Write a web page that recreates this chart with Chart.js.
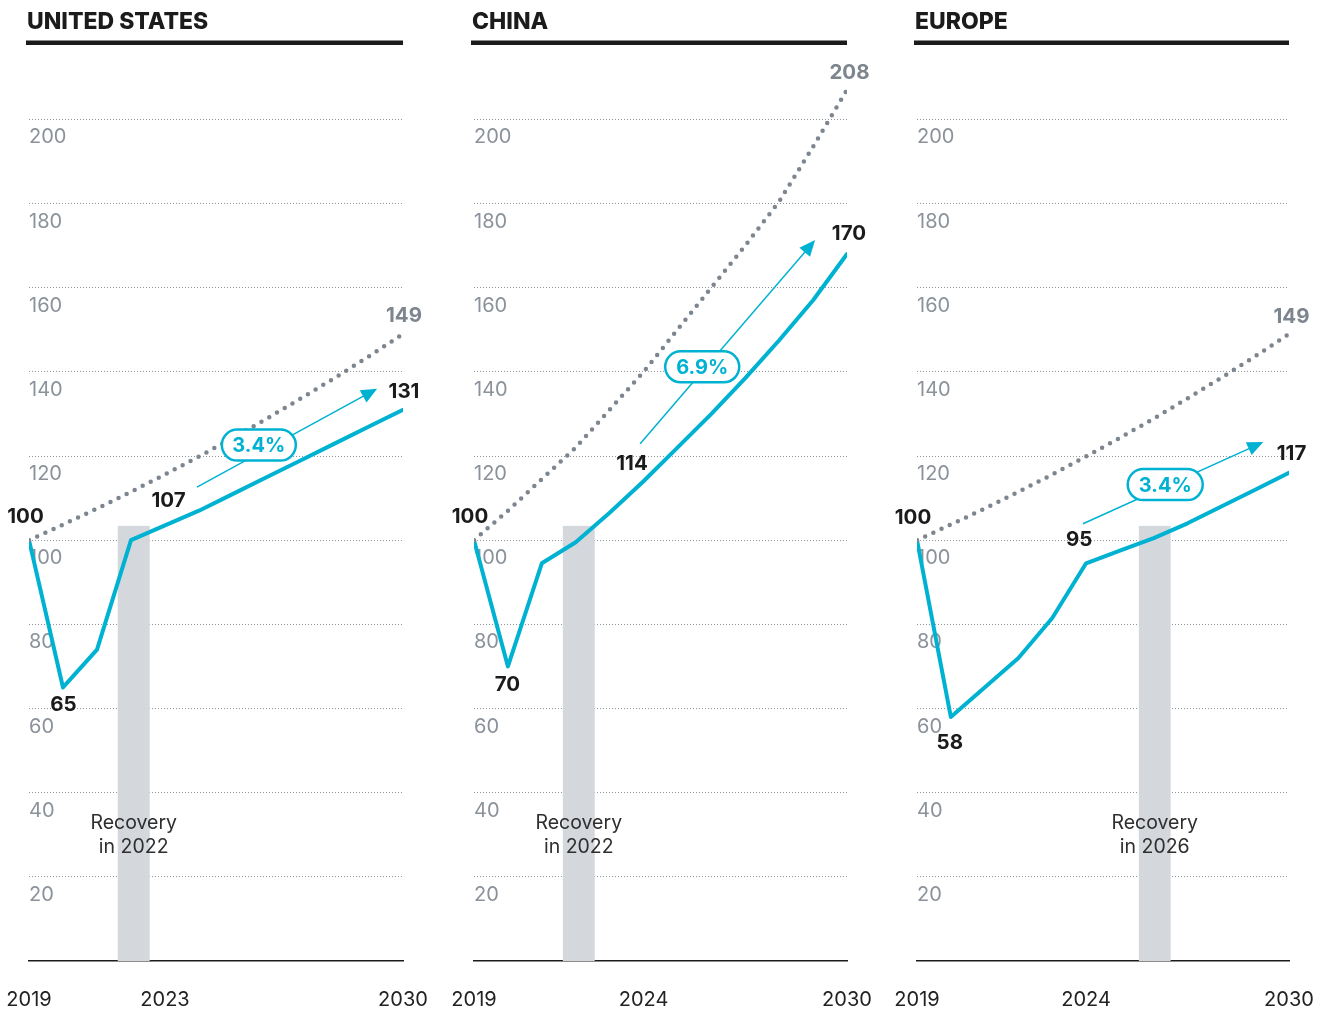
<!DOCTYPE html>
<html>
<head>
<meta charset="utf-8">
<script src="https://cdn.jsdelivr.net/npm/chart.js@4.4.1/dist/chart.umd.min.js"></script>
<style>
  body { margin: 0; background: #fff; }
  .panel { position: absolute; top: 0; width: 430px; height: 1011px; }
</style>
</head>
<body>
<div class="panel" style="left:0px"><canvas id="us" width="430" height="1011"></canvas></div>
<div class="panel" style="left:445px"><canvas id="china" width="430" height="1011"></canvas></div>
<div class="panel" style="left:888px"><canvas id="europe" width="430" height="1011"></canvas></div>
<script>
// index, 2019 = 100
const years = [2019, 2020, 2021, 2022, 2023, 2024, 2025, 2026, 2027, 2028, 2029, 2030];
const yTicks = [20, 40, 60, 80, 100, 120, 140, 160, 180, 200];

const usActual = [100, 65, 74, 100, 103.5, 107, 111, 115, 119, 123, 127, 131];
const usTrend = [100, 103.7, 107.5, 111.5, 115.6, 119.9, 124.3, 128.9, 133.7, 138.6, 143.7, 149];

const chinaActual = [100, 70, 94.5, 99.5, 106.5, 114, 122, 130, 138.5, 147.5, 157, 168];
const chinaTrend = [100, 107, 114.5, 122, 131, 140, 150, 160, 170, 180.5, 193.5, 207];

const europeActual = [100, 58, 65, 72, 81.5, 94.5, 97.5, 100.5, 104, 108, 112, 116];
const europeTrend = [100, 103.7, 107.5, 111.5, 115.6, 119.9, 124.3, 128.9, 133.7, 138.6, 143.7, 149];

const titles = ["UNITED STATES", "CHINA", "EUROPE"];
const midYears = [2023, 2024, 2024];
const recoveryYears = [2022, 2022, 2026];
const growthLabels = ["3.4%", "6.9%", "3.4%"];

const CYAN = "#00b2d2";
const GREY = "#7d858e";
const TICK = "#8b929a";
const BAR = "#d4d8dc";
const INK = "#1b1b1b";
const FONT = "Inter, 'Noto Sans', sans-serif";
const RECOVERY_TOP = 103.4;

// annotation placement per panel
const panels = [
  {
    id: "us", actual: usActual, trend: usTrend, padL: 29, padR: 27, barShift: 0.08,
    arrow: [[2023.94, 112.6], [2029.24, 136.0]], pill: [2025.76, 122.6, 74],
    labels: [
      ["100", "actual", 0, -3.5, -23, INK],
      ["65", "actual", 1, 0.5, 17.5, INK],
      ["107", "actual", 5, -30.5, -10, INK],
      ["131", "actual", 11, 1, -18, INK],
      ["149", "trend", 11, 1, -18, GREY]
    ]
  },
  {
    id: "china", actual: chinaActual, trend: chinaTrend, padL: 29, padR: 28, barShift: 0.09,
    arrow: [[2023.9, 122.9], [2029.06, 171.3]], pill: [2025.73, 141.2, 74],
    labels: [
      ["100", "actual", 0, -4, -23, INK],
      ["70", "actual", 1, -0.5, 18, INK],
      ["114", "actual", 5, -11.5, -17, INK],
      ["170", "actual", 11, 2, -20, INK],
      ["208", "trend", 11, 2.5, -17, GREY]
    ]
  },
  {
    id: "europe", actual: europeActual, trend: europeTrend, padL: 29, padR: 29, barShift: 0.03,
    arrow: [[2023.91, 103.9], [2029.24, 123.3]], pill: [2026.34, 113.2, 75],
    labels: [
      ["100", "actual", 0, -4, -22.5, INK],
      ["58", "actual", 1, -1, 26, INK],
      ["95", "actual", 5, -7, -23, INK],
      ["117", "actual", 11, 2.5, -18.5, INK],
      ["149", "trend", 11, 2.5, -17.5, GREY]
    ]
  }
];

function panelPlugin(p, k) {
  const mid = recoveryYears[k] + p.barShift;
  return {
    id: "panel" + k,
    beforeDatasetsDraw(chart) {
      const { ctx, scales: { x, y } } = chart;
      const x0 = x.getPixelForValue(mid - 0.47);
      const x1 = x.getPixelForValue(mid + 0.47);
      const yt = y.getPixelForValue(RECOVERY_TOP);
      const yb = y.getPixelForValue(0);
      ctx.save();
      ctx.fillStyle = BAR;
      ctx.fillRect(x0, yt, x1 - x0, yb - yt);
      ctx.restore();
    },
    afterDatasetsDraw(chart) {
      const { ctx, chartArea, scales: { x, y } } = chart;
      ctx.save();

      // title + rule
      ctx.fillStyle = INK;
      ctx.font = "800 23px " + FONT;
      ctx.textAlign = "left";
      ctx.textBaseline = "alphabetic";
      ctx.fillText(titles[k], chartArea.left - 2, 29);
      ctx.fillRect(chartArea.left - 3, 40.5, chartArea.right - chartArea.left + 3, 4.5);

      // recovery note
      const cx = x.getPixelForValue(mid);
      const yb = y.getPixelForValue(0);
      ctx.fillStyle = "#2e2e2e";
      ctx.font = "400 19.5px " + FONT;
      ctx.textAlign = "center";
      ctx.textBaseline = "middle";
      ctx.fillText("Recovery", cx, yb - 138);
      ctx.fillText("in " + recoveryYears[k], cx, yb - 114);

      // growth arrow
      const [a, b] = p.arrow;
      const ax = x.getPixelForValue(a[0]), ay = y.getPixelForValue(a[1]);
      const bx = x.getPixelForValue(b[0]), by = y.getPixelForValue(b[1]);
      const ang = Math.atan2(by - ay, bx - ax);
      ctx.strokeStyle = CYAN;
      ctx.fillStyle = CYAN;
      ctx.lineWidth = 1.5;
      ctx.beginPath();
      ctx.moveTo(ax, ay);
      ctx.lineTo(bx - 12 * Math.cos(ang), by - 12 * Math.sin(ang));
      ctx.stroke();
      ctx.beginPath();
      ctx.moveTo(bx, by);
      ctx.lineTo(bx - 16 * Math.cos(ang) + 7 * Math.sin(ang), by - 16 * Math.sin(ang) - 7 * Math.cos(ang));
      ctx.lineTo(bx - 16 * Math.cos(ang) - 7 * Math.sin(ang), by - 16 * Math.sin(ang) + 7 * Math.cos(ang));
      ctx.closePath();
      ctx.fill();

      // growth pill
      const px = x.getPixelForValue(p.pill[0]), py = y.getPixelForValue(p.pill[1]);
      const w = p.pill[2], h = 31;
      ctx.beginPath();
      ctx.roundRect(px - w / 2, py - h / 2, w, h, h / 2);
      ctx.fillStyle = "#fff";
      ctx.fill();
      ctx.lineWidth = 2.5;
      ctx.stroke();
      ctx.fillStyle = CYAN;
      ctx.font = "700 20px " + FONT;
      ctx.fillText(growthLabels[k], px, py + 1);

      // value labels
      ctx.font = "700 20.5px " + FONT;
      p.labels.forEach(([txt, series, i, dx, dy, col]) => {
        const v = (series === "actual" ? p.actual : p.trend)[i];
        ctx.fillStyle = col;
        ctx.fillText(txt, x.getPixelForValue(years[i]) + dx, y.getPixelForValue(v) + dy);
      });
      ctx.restore();
    }
  };
}

panels.forEach((p, k) => {
  new Chart(document.getElementById(p.id), {
    type: "line",
    data: {
      datasets: [
        {
          data: years.map((yr, i) => ({ x: yr, y: p.trend[i] })),
          borderColor: GREY,
          borderWidth: 4.5,
          borderDash: [0, 9],
          borderCapStyle: "round",
          pointRadius: 0
        },
        {
          data: years.map((yr, i) => ({ x: yr, y: p.actual[i] })),
          borderColor: CYAN,
          borderWidth: 4,
          borderJoinStyle: "round",
          borderCapStyle: "round",
          pointRadius: 0
        }
      ]
    },
    options: {
      responsive: false,
      animation: false,
      devicePixelRatio: 1,
      layout: { padding: { top: 52, left: p.padL, right: p.padR, bottom: 0 } },
      plugins: { legend: { display: false }, tooltip: { enabled: false } },
      scales: {
        x: {
          type: "linear",
          min: 2019,
          max: 2030,
          afterBuildTicks: s => { s.ticks = [2019, midYears[k], 2030].map(v => ({ value: v })); },
          afterFit: s => {
            s.height = 50;
            s.paddingLeft = 0;
            s.paddingRight = 0;
          },
          grid: { display: false, drawTicks: false },
          border: { display: true, color: INK, width: 1.5 },
          ticks: {
            autoSkip: false,
            maxRotation: 0,
            padding: 27,
            color: "#222",
            font: { family: FONT, size: 20 },
            callback: v => String(v)
          }
        },
        y: {
          min: 0,
          max: 216,
          afterBuildTicks: s => { s.ticks = yTicks.map(v => ({ value: v })); },
          afterFit: s => {
            s.width = 0;
            s.paddingTop = 0;
            s.paddingBottom = 0;
          },
          grid: { color: "#8f959b", lineWidth: 1, drawTicks: false },
          border: { display: false, dash: [1, 2] },
          ticks: {
            mirror: true,
            padding: 0,
            labelOffset: 18,
            color: TICK,
            font: { family: FONT, size: 20 }
          }
        }
      }
    },
    plugins: [panelPlugin(p, k)]
  });
});
</script>
</body>
</html>
